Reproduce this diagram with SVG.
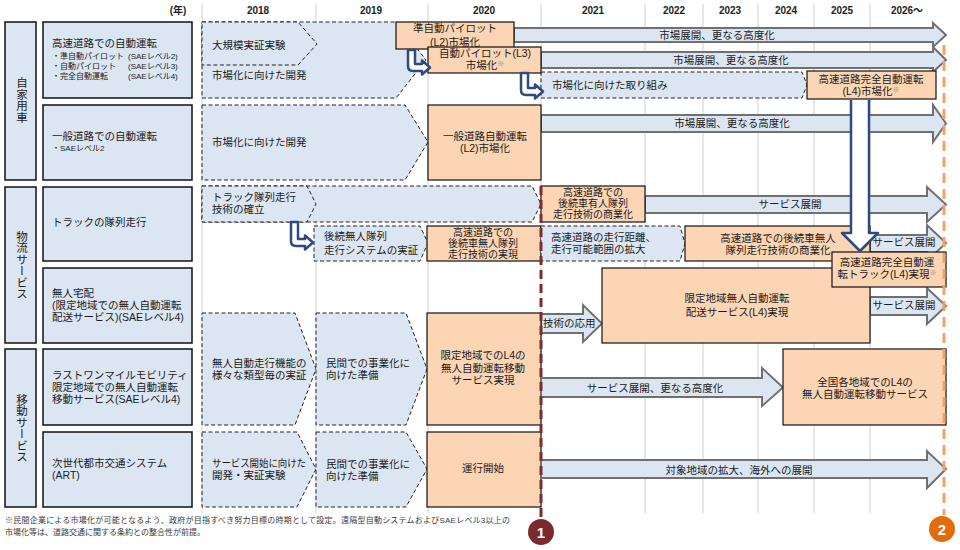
<svg xmlns="http://www.w3.org/2000/svg" width="960" height="550" viewBox="0 0 960 550">
<style>
text{font-family:"Liberation Sans","Noto Sans CJK JP",sans-serif;fill:#1a1a1a;font-size:10.5px}
.c{text-anchor:middle}
.yr{font-size:10px;font-weight:bold;text-anchor:middle;fill:#222}
.sm{font-size:8px}
.bx{font-size:10px}
.fn{font-size:8px;fill:#3a3a3a}
.grid{stroke:#cfcfcf;stroke-width:1}
.cat{fill:#dce6f2;stroke:#111;stroke-width:1.5}
.pent{fill:#dce6f2;stroke:#222;stroke-width:1;stroke-dasharray:4 2.5}
.box{fill:#fcd5b4;stroke:#111;stroke-width:1.2}
.arr{fill:#dce6f2;stroke:#707070;stroke-width:2}
.nav{fill:#fff;stroke:#2f4a7e;stroke-width:2.5;stroke-linejoin:round}
.vt{writing-mode:vertical-rl;text-anchor:middle;font-size:11.5px}
.num{font-size:15px;font-weight:bold;fill:#fff;text-anchor:middle}
</style>
<rect width="960" height="550" fill="#fff"/>
<g id="grid">
<line class="grid" x1="202" y1="4" x2="202" y2="513"/>
<line class="grid" x1="316" y1="4" x2="316" y2="513"/>
<line class="grid" x1="428" y1="4" x2="428" y2="513"/>
<line class="grid" x1="541" y1="4" x2="541" y2="513"/>
<line class="grid" x1="645" y1="4" x2="645" y2="513"/>
<line class="grid" x1="703" y1="4" x2="703" y2="513"/>
<line class="grid" x1="758" y1="4" x2="758" y2="513"/>
<line class="grid" x1="814" y1="4" x2="814" y2="513"/>
<line class="grid" x1="870" y1="4" x2="870" y2="513"/>
</g>
<g id="years">
<text class="yr" x="178" y="14">(年)</text>
<text class="yr" x="258" y="14">2018</text>
<text class="yr" x="371" y="14">2019</text>
<text class="yr" x="484" y="14">2020</text>
<text class="yr" x="593" y="14">2021</text>
<text class="yr" x="674" y="14">2022</text>
<text class="yr" x="730" y="14">2023</text>
<text class="yr" x="786" y="14">2024</text>
<text class="yr" x="842" y="14">2025</text>
<text class="yr" x="907" y="14">2026～</text>
</g>
<g id="cat-private"><rect class="cat" x="5" y="22" width="31" height="158"/><text class="vt" x="21" y="100">自家用車</text></g>
<g id="cat-logistics"><rect class="cat" x="5" y="187" width="31" height="156"/><text class="vt" x="21" y="265">物流サービス</text></g>
<g id="cat-mobility"><rect class="cat" x="5" y="349" width="31" height="158"/><text class="vt" x="21" y="428">移動サービス</text></g>
<g id="item-highway"><rect class="cat" x="43" y="22" width="149" height="76"/>
<text x="52" y="47" font-size="11">高速道路での自動運転</text>
<text class="sm" x="52" y="59">・準自動パイロット</text><text class="sm" x="128" y="59">(SAEレベル2)</text>
<text class="sm" x="52" y="69">・自動パイロット</text><text class="sm" x="128" y="69">(SAEレベル3)</text>
<text class="sm" x="52" y="79">・完全自動運転</text><text class="sm" x="128" y="79">(SAEレベル4)</text></g>
<g id="item-general"><rect class="cat" x="43" y="105" width="149" height="75"/>
<text x="52" y="140" font-size="11">一般道路での自動運転</text><text class="sm" x="52" y="151">・SAEレベル2</text></g>
<g id="item-truck"><rect class="cat" x="43" y="187" width="149" height="74"/><text x="52" y="226">トラックの隊列走行</text></g>
<g id="item-delivery"><rect class="cat" x="43" y="268" width="149" height="75"/>
<text x="52" y="297">無人宅配</text><text x="52" y="309">(限定地域での無人自動運転</text><text x="52" y="321">配送サービス)(SAEレベル4)</text></g>
<g id="item-lastmile"><rect class="cat" x="43" y="349" width="149" height="76"/>
<text x="52" y="379">ラストワンマイルモビリティ</text><text x="52" y="391">限定地域での無人自動運転</text><text x="52" y="403">移動サービス(SAEレベル4)</text></g>
<g id="item-art"><rect class="cat" x="43" y="432" width="149" height="75"/>
<text x="52" y="467">次世代都市交通システム</text><text x="52" y="479">(ART)</text></g>

<g id="hw-dev"><path class="pent" d="M202,22 H396 L426,60 L396,98 H202 Z"/><text x="212" y="79">市場化に向けた開発</text></g>
<g id="hw-demo"><path class="pent" d="M202,22 H298 L317,44 L298,65 H202 Z"/><text x="212" y="49">大規模実証実験</text></g>
<g id="hw-l2-deploy"><path class="arr" d="M514,28 H933 V23 L946,35 L933,47 V42 H514 Z"/><text class="c" x="717" y="39">市場展開、更なる高度化</text></g>
<g id="hw-l3-deploy"><path class="arr" d="M541,52 H933 V47 L946,60 L933,72 V68 H541 Z"/><text class="c" x="731" y="64">市場展開、更なる高度化</text></g>
<g id="hw-l4-dev"><path class="pent" d="M541,72 H802 L807,85 L802,98 H541 Z"/><text x="552" y="89">市場化に向けた取り組み</text></g>
<g id="hw-l2"><rect class="box" x="396" y="22" width="118" height="27"/><text class="c" x="455" y="32">準自動パイロット</text><text class="c" x="455" y="46">(L2)市場化</text></g>
<g id="hw-l3"><rect class="box" x="428" y="47" width="113" height="26"/><text class="c" x="485" y="57">自動パイロット(L3)</text><text class="c" x="485" y="69">市場化<tspan font-size="7" fill="#888" dy="-3">※</tspan></text></g>
<g id="hw-l4"><rect class="box" x="807" y="71" width="129" height="28"/><text class="c" x="871" y="83">高速道路完全自動運転</text><text class="c" x="871" y="95">(L4)市場化<tspan font-size="7" fill="#888" dy="-3">※</tspan></text></g>

<g id="gen-dev"><path class="pent" d="M202,105 H405 L428,142 L405,180 H202 Z"/><text x="212" y="146">市場化に向けた開発</text></g>
<g id="gen-deploy"><path class="arr" d="M541,115 H933 V105 L946,123.5 L933,142 V132 H541 Z"/><text class="c" x="732" y="127">市場展開、更なる高度化</text></g>
<g id="gen-l2"><rect class="box" x="428" y="105" width="113" height="75"/><text class="c" x="485" y="140">一般道路自動運転</text><text class="c" x="485" y="152">(L2)市場化</text></g>

<g id="tr-stage"><path class="pent" d="M202,186 H532 L541,204 L532,222 H202 Z"/></g>
<g id="tr-tech"><path class="pent" d="M202,186 H307 L316,204 L307,222 H202 Z"/><text x="212" y="201">トラック隊列走行</text><text x="212" y="213">技術の確立</text></g>
<g id="tr-service"><path class="arr" d="M645,196 H927 V187 L946,204.5 L927,222 V213 H645 Z"/><text class="c" x="790" y="208">サービス展開</text></g>
<g id="tr-manned"><rect class="box" x="541" y="186" width="104" height="36"/><text class="c bx" x="593" y="196">高速道路での</text><text class="c bx" x="593" y="207">後続車有人隊列</text><text class="c bx" x="593" y="218">走行技術の商業化</text></g>
<g id="tr-unmanned-demo"><path class="pent" d="M314,226 H420 L428,243 L420,261 H314 Z"/><text x="324" y="240">後続無人隊列</text><text x="324" y="254">走行システムの実証</text></g>
<g id="tr-unmanned"><rect class="box" x="427" y="226" width="114" height="35"/><text class="c bx" x="483" y="236">高速道路での</text><text class="c bx" x="483" y="247">後続車無人隊列</text><text class="c bx" x="483" y="258">走行技術の実現</text></g>
<g id="tr-range"><path class="pent" d="M541,226 H680 L685,243.5 L680,261 H541 Z"/><text x="551" y="241">高速道路の走行距離、</text><text x="551" y="253">走行可能範囲の拡大</text></g>
<g id="tr-service2"><path class="arr" d="M870,235 H927 V225 L946,243 L927,261 V252 H870 Z"/><text class="c" x="904" y="246">サービス展開</text></g>
<g id="tr-commercial"><rect class="box" x="685" y="226" width="185" height="35"/><text class="c" x="778" y="242">高速道路での後続車無人</text><text class="c" x="778" y="254">隊列走行技術の商業化</text></g>

<g id="dl-apply"><path class="arr" d="M541,314 H583 V305 L602,323.5 L583,342 V333 H541 Z"/><text x="543" y="327">技術の応用</text></g>
<g id="dl-service"><path class="arr" d="M870,297 H927 V288 L946,306 L927,324 V315 H870 Z"/><text class="c" x="904" y="309">サービス展開</text></g>
<g id="dl-l4"><rect class="box" x="602" y="268" width="268" height="75"/><text class="c" x="737" y="302">限定地域無人自動運転</text><text class="c" x="737" y="316">配送サービス(L4)実現</text></g>
<g id="tr-l4"><rect class="box" x="832" y="252" width="114" height="35"/><text class="c" x="887" y="266">高速道路完全自動運</text><text class="c" x="887" y="278">転トラック(L4)実現<tspan font-size="7" fill="#888" dy="-3">※</tspan></text></g>

<g id="lm-demo"><path class="pent" d="M202,313 H295 L316,369 L295,425 H202 Z"/><text x="212" y="367">無人自動走行機能の</text><text x="212" y="379">様々な類型毎の実証</text></g>
<g id="lm-prep"><path class="pent" d="M316,313 H406 L427,369 L406,425 H316 Z"/><text x="326" y="367">民間での事業化に</text><text x="326" y="379">向けた準備</text></g>
<g id="lm-l4"><rect class="box" x="427" y="313" width="114" height="112"/><text class="c" x="483" y="359">限定地域でのL4の</text><text class="c" x="483" y="372">無人自動運転移動</text><text class="c" x="483" y="384">サービス実現</text></g>
<g id="lm-deploy"><path class="arr" d="M541,378 H762 V368 L783,387.5 L762,406 V397 H541 Z"/><text class="c" x="655" y="392">サービス展開、更なる高度化</text></g>
<g id="lm-nation"><rect class="box" x="783" y="349" width="163" height="76"/><text class="c" x="865" y="386">全国各地域でのL4の</text><text class="c" x="865" y="398">無人自動運転移動サービス</text></g>

<g id="art-demo"><path class="pent" d="M202,432 H297 L316,469 L297,507 H202 Z"/><text x="212" y="467" textLength="94" lengthAdjust="spacingAndGlyphs">サービス開始に向けた</text><text x="212" y="479">開発・実証実験</text></g>
<g id="art-prep"><path class="pent" d="M316,432 H406 L427,469 L406,507 H316 Z"/><text x="326" y="468">民間での事業化に</text><text x="326" y="480">向けた準備</text></g>
<g id="art-start"><rect class="box" x="427" y="432" width="114" height="75"/><text class="c" x="483" y="472">運行開始</text></g>
<g id="art-expand"><path class="arr" d="M541,460 H927 V451 L946,469 L927,488 V478 H541 Z"/><text class="c" x="739" y="474">対象地域の拡大、海外への展開</text></g>

<g id="connectors">
<path class="nav" d="M408,50 H415 V64 H422 V60.5 L430,67.5 L422,74.5 V71 H413 Q408,71 408,66 Z"/>
<path class="nav" d="M521,73 H528 V88 H535 V84.5 L543,91.5 L535,98.5 V95 H526 Q521,95 521,90 Z"/>
<path class="nav" d="M291,222 H298 V239 H305 V235.5 L313,242.5 L305,249.5 V246 H296 Q291,246 291,241 Z"/>
<path class="nav" d="M851,100 V233 H842 L860,251 L878,233 H869 V100" stroke-linejoin="miter"/>
</g>

<g id="milestone-1">
<line x1="541" y1="186" x2="541" y2="518" stroke="#7b2c2f" stroke-width="3" stroke-dasharray="9 5"/>
<circle cx="541" cy="532" r="13" fill="#7b2b2e"/><text class="num" x="541" y="537.5">1</text>
</g>
<g id="milestone-2">
<line x1="944" y1="45" x2="944" y2="515" stroke="#f6a15e" stroke-width="3" stroke-dasharray="10 6"/>
<circle cx="942" cy="529" r="13" fill="#e36c0a"/><text class="num" x="942" y="534.5">2</text>
</g>

<g id="footnote">
<text class="fn" x="5" y="523" textLength="505" lengthAdjust="spacing">※民間企業による市場化が可能となるよう、政府が目指すべき努力目標の時期として設定。遠隔型自動システムおよびSAEレベル3以上の</text>
<text class="fn" x="5" y="535">市場化等は、道路交通に関する条約との整合性が前提。</text>
</g>
</svg>
